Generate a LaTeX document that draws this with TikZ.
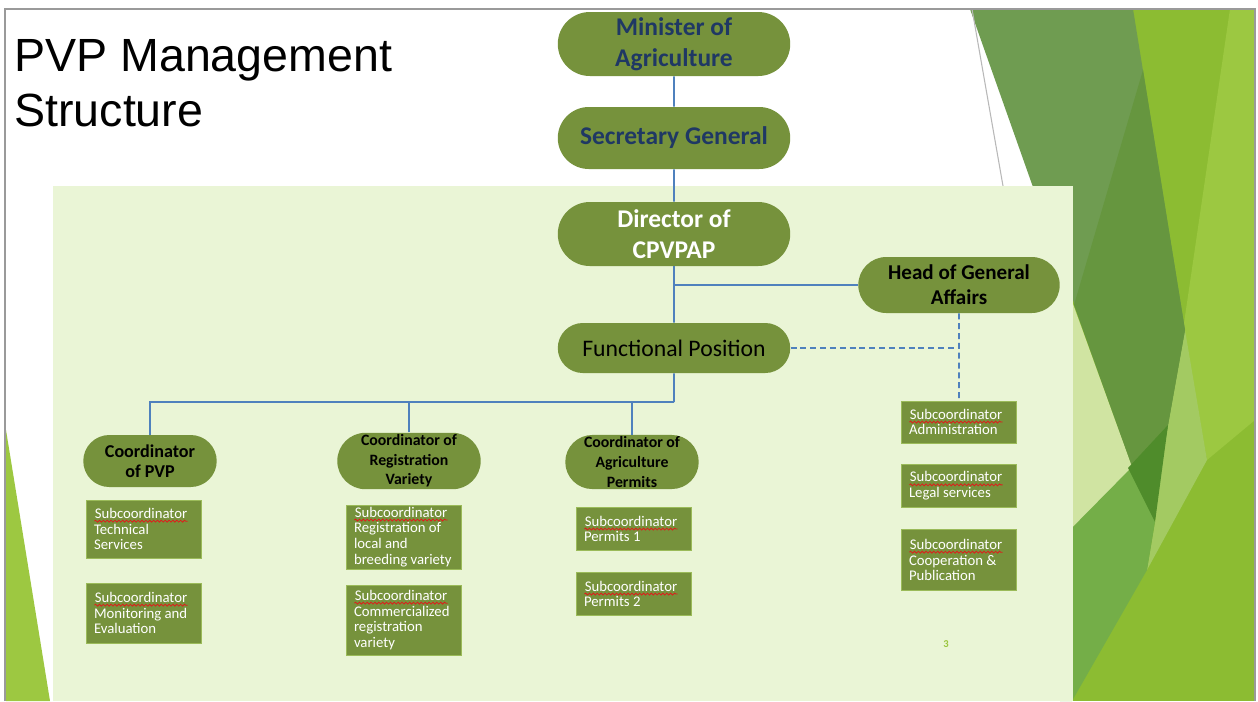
\documentclass[tikz,border=0pt]{standalone}
\usepackage{fontspec}
\setmainfont{Carlito}
\newfontfamily\titlefont{Liberation Sans}
\usepackage{tikz}
\usetikzlibrary{shapes.misc, decorations.pathmorphing}
\definecolor{pillgreen}{HTML}{76923C}
\definecolor{boxedge}{HTML}{9BBB59}
\definecolor{titleblue}{HTML}{1F3864}
\definecolor{lineblue}{HTML}{4F81BD}
\definecolor{panelgreen}{HTML}{EAF5D6}
\definecolor{spellred}{HTML}{E01B1B}
\definecolor{pagegreen}{HTML}{9BC63E}
\definecolor{decoA}{HTML}{8CBC32}
\definecolor{decoB}{HTML}{9CC841}
\definecolor{decoC}{HTML}{6F9C51}
\definecolor{decoD}{HTML}{66963F}
\definecolor{decoE}{HTML}{D0E4A2}
\definecolor{decoF}{HTML}{4F8C2B}
\definecolor{decoG}{HTML}{74AE48}
\definecolor{decoH}{HTML}{A3CA62}
\definecolor{leftgreen}{HTML}{9DC841}
\definecolor{framegray}{HTML}{9A9A9A}
\newcommand\redwave[1]{\tikz[baseline=(w.base), x=1cm, y=1cm]{\node[inner sep=0pt, text width=, align=none, minimum size=0pt, draw=none, fill=none] (w) {#1};
  \draw[spellred, line width=0.45pt, decorate, decoration={snake, amplitude=0.55pt, segment length=2.2pt}] ([yshift=-1.4pt]w.south west) -- ([yshift=-1.4pt]w.south east);}}
\begin{document}
\begin{tikzpicture}[x=0.02cm, y=-0.02cm,
  pill/.style={rounded rectangle, fill=pillgreen, minimum width=4.72cm, minimum height=1.28cm, align=center, inner sep=1pt, font=\fontsize{14.5}{17.7}\selectfont\bfseries},
  coord/.style={pill, minimum width=2.74cm, minimum height=1.04cm, font=\fontsize{9}{11.2}\selectfont\bfseries},
  subbox/.style={fill=pillgreen, draw=boxedge, line width=0.4pt, text=white, align=flush left, text width=2.0cm, inner xsep=0.15cm, inner ysep=0pt, font=\fontsize{8.4}{9}\selectfont},
  link/.style={draw=lineblue, line width=0.9pt},
  dlink/.style={link, dash pattern=on 3.4pt off 2.2pt}
]
\useasboundingbox (0,0) rectangle (1258,701);
\fill[white] (0,0) rectangle (1258,701);
\fill[decoA] (1073,9) -- (1255,9) -- (1255,701) -- (1073,701) -- cycle;
\fill[decoB] (1230,9) -- (1255,9) -- (1255,420) -- (1207,460) -- (1183,330) -- cycle;
\fill[decoH] (1185,330) -- (1207,460) -- (1147,570) -- (1155,522) -- (1160,470) -- cycle;
\fill[decoC] (970,9) -- (1133,9) -- (1185,330) -- (1160,470) -- (1132,467) -- cycle;
\fill[decoD] (1143,70) -- (1185,330) -- (1160,470) -- (1132,467) -- (1074,305) -- cycle;
\fill[decoE] (1060,268) -- (1132,467) -- (1060,545) -- cycle;
\fill[decoG] (1060,540) -- (1132,467) -- (1155,522) -- (1147,570) -- (1072,701) -- (1060,701) -- cycle;
\fill[decoF] (1128,468) -- (1168,425) -- (1155,522) -- cycle;
\fill[leftgreen] (6,430) -- (50,701) -- (6,701) -- cycle;
\draw[framegray!70, line width=0.6pt] (972,9) -- (1003,186);
\draw[framegray, line width=1pt] (5,701) -- (5,9) -- (1255,9) -- (1255,701);
\fill[panelgreen] (53,186) rectangle (1073,701);

\node[anchor=north west, inner sep=0pt, align=left, font=\titlefont\fontsize{26.5}{31.3}\selectfont] (title) at (14,39) {PVP Management\\Structure};

\node[pill, text=titleblue] (min) at (674,44) {Minister of\\Agriculture};
\node[pill, text=titleblue, minimum height=1.24cm] (sec) at (674,138) {Secretary General};
\node[pill, text=white] (dir) at (674,234) {Director of\\CPVPAP};
\node[pill, minimum width=4.1cm, minimum height=1.12cm, font=\fontsize{12}{14.2}\selectfont\bfseries] (head) at (959,285) {Head of General\\Affairs};
\node[pill, minimum height=1.0cm, font=\fontsize{13.5}{16}\selectfont] (func) at (674,348) {Functional Position};
\node[coord, font=\fontsize{10.3}{11.2}\selectfont\bfseries] (pvp) at (150,461) {Coordinator\\of PVP};
\node[coord, minimum width=2.94cm, minimum height=1.1cm] (reg) at (409,461) {Coordinator of\\Registration\\Variety};
\node[coord] (agr) at (632,462) {Coordinator of\\Agriculture\\Permits};

\node[subbox, minimum height=1.16cm] (tech) at (144,529) {\redwave{Subcoordinator}\\Technical\\Services};
\node[subbox, minimum height=1.2cm] (mon) at (144,613) {\redwave{Subcoordinator}\\Monitoring and\\Evaluation};
\node[subbox, minimum height=1.28cm] (loc) at (404,537) {\redwave{Subcoordinator}\\Registration of\\local and\\breeding variety};
\node[subbox, minimum height=1.4cm] (com) at (404,620) {\redwave{Subcoordinator}\\Commercialized\\registration\\variety};
\node[subbox, minimum height=0.86cm] (pm1) at (634,529) {\redwave{Subcoordinator}\\Permits 1};
\node[subbox, minimum height=0.86cm] (pm2) at (634,594) {\redwave{Subcoordinator}\\Permits 2};
\node[subbox, minimum height=0.84cm] (adm) at (959,422) {\redwave{Subcoordinator}\\Administration};
\node[subbox, minimum height=0.86cm] (leg) at (959,486) {\redwave{Subcoordinator}\\Legal services};
\node[subbox, minimum height=1.22cm] (coop) at (959,560) {\redwave{Subcoordinator}\\Cooperation \&\\Publication};
\node[text=pagegreen, font=\fontsize{6}{7}\selectfont\bfseries] (pg) at (946,644) {3};

\coordinate (bus) at (674,402);
\draw[link] (min) -- (sec);
\draw[link] (sec) -- (dir);
\draw[link] (dir) -- (func);
\draw[link] (head.west) -| (dir.south);
\draw[link] (func) -- (bus);
\draw[link] (pvp.north) |- (bus);
\draw[link] (reg.north) |- (bus);
\draw[link] (agr.north) |- (bus);
\draw[dlink] (func.east) -- (func.east -| adm.north);
\draw[dlink] (head) -- (adm);
\end{tikzpicture}
\end{document}
